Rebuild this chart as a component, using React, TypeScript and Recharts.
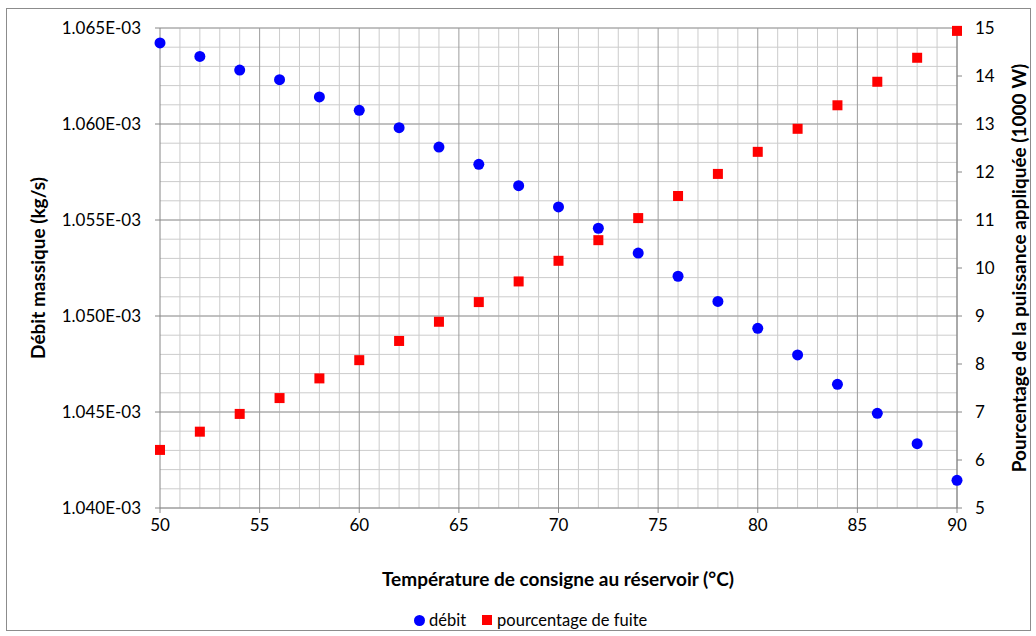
import React from 'react';
import { ScatterChart, Scatter, XAxis, YAxis, ReferenceLine } from 'recharts';

const temperatures = [50, 52, 54, 56, 58, 60, 62, 64, 66, 68, 70, 72, 74, 76, 78, 80, 82, 84, 86, 88, 90];
const debit = [
    1.06422e-3, 1.06352e-3, 1.06281e-3, 1.06231e-3, 1.06141e-3, 1.06071e-3, 1.05981e-3,
    1.0588e-3, 1.0579e-3, 1.05679e-3, 1.05568e-3, 1.05457e-3, 1.05328e-3, 1.05207e-3,
    1.05076e-3, 1.04936e-3, 1.04797e-3, 1.04644e-3, 1.04493e-3, 1.04335e-3, 1.04144e-3,
];
const fuite = [
    6.21, 6.59, 6.96, 7.29, 7.7, 8.08, 8.48, 8.88, 9.29, 9.72, 10.15,
    10.58, 11.04, 11.5, 11.96, 12.42, 12.9, 13.39, 13.88, 14.38, 14.94,
];

const xTicks = [50, 55, 60, 65, 70, 75, 80, 85, 90];
const leftTicks = [1.04e-3, 1.045e-3, 1.05e-3, 1.055e-3, 1.06e-3, 1.065e-3];
const rightTicks = [5, 6, 7, 8, 9, 10, 11, 12, 13, 14, 15];

// minor grid: every 1 °C and every 0.001E-03 kg/s
const minorX = Array.from({ length: 41 }, (_, i) => 50 + i).filter((v) => v % 5 !== 0);
const minorY = Array.from({ length: 26 }, (_, i) => 1.04e-3 + i * 1e-6);

const debitData = temperatures.map((t, i) => ({ x: t, y: debit[i] }));
const fuiteData = temperatures.map((t, i) => ({ x: t, y: fuite[i] }));

const FONT = 'Lato, "Open Sans", sans-serif';
const tickStyle = { fill: '#000', fontSize: 17, fontFamily: FONT };
const MINOR = '#cccccc';
const MAJOR = '#9c9c9c';
const AXIS = '#868686';

// eslint-disable-next-line @typescript-eslint/no-explicit-any
const BlueDot = (p: any) => <circle cx={p.cx} cy={p.cy} r={5.5} fill="#0000ff" />;
// eslint-disable-next-line @typescript-eslint/no-explicit-any
const RedSquare = (p: any) => <rect x={p.cx - 5} y={p.cy - 5} width={10} height={10} fill="#ff0000" />;

const fmtLeft = (v: number) => (v * 1000).toFixed(3) + 'E-03';

const titleStyle: React.CSSProperties = { position: 'absolute', whiteSpace: 'nowrap', fontWeight: 700, fontSize: 19 };

export default function App() {
    return (
        <div style={{ position: 'absolute', left: 0, top: 0, width: 1036, height: 636, background: '#fff', fontFamily: FONT }}>
            <div style={{ position: 'absolute', left: 6, top: 8, width: 1023, height: 621, border: '1px solid #8c8c8c' }} />
            <ScatterChart width={1036} height={636} margin={{ top: 28, left: 60, right: 19, bottom: 98 }} style={{ position: 'absolute', left: 0, top: 0 }}>
                <XAxis
                    type="number"
                    dataKey="x"
                    domain={[50, 90]}
                    ticks={xTicks}
                    height={30}
                    tickSize={5}
                    tickMargin={6}
                    stroke={AXIS}
                    tick={tickStyle}
                />
                <YAxis
                    yAxisId="left"
                    type="number"
                    dataKey="y"
                    domain={[1.04e-3, 1.065e-3]}
                    ticks={leftTicks}
                    tickFormatter={fmtLeft}
                    width={100}
                    tickSize={5}
                    tickMargin={14}
                    stroke={AXIS}
                    tick={tickStyle}
                />
                <YAxis
                    yAxisId="right"
                    orientation="right"
                    type="number"
                    dataKey="y"
                    domain={[5, 15]}
                    ticks={rightTicks}
                    width={60}
                    tickSize={5}
                    tickMargin={13}
                    stroke={AXIS}
                    tick={tickStyle}
                />
                {minorX.map((v) => (
                    <ReferenceLine key={'mx' + v} x={v} yAxisId="left" stroke={MINOR} strokeWidth={1} />
                ))}
                {minorY.map((v, i) => (
                    <ReferenceLine key={'my' + i} y={v} yAxisId="left" stroke={MINOR} strokeWidth={1} />
                ))}
                {xTicks.slice(1).map((v) => (
                    <ReferenceLine key={'Mx' + v} x={v} yAxisId="left" stroke={MAJOR} strokeWidth={1} />
                ))}
                {leftTicks.slice(1).map((v, i) => (
                    <ReferenceLine key={'My' + i} y={v} yAxisId="left" stroke={MAJOR} strokeWidth={1} />
                ))}
                <Scatter name="débit" data={debitData} yAxisId="left" shape={BlueDot} isAnimationActive={false} />
                <Scatter name="pourcentage de fuite" data={fuiteData} yAxisId="right" shape={RedSquare} isAnimationActive={false} />
            </ScatterChart>
            <div style={{ ...titleStyle, left: 37, top: 268, transform: 'translate(-50%, -50%) rotate(-90deg)' }}>
                Débit massique (kg/s)
            </div>
            <div style={{ ...titleStyle, left: 1018, top: 268, transform: 'translate(-50%, -50%) rotate(-90deg)' }}>
                Pourcentage de la puissance appliquée (1000 W)
            </div>
            <div style={{ ...titleStyle, left: 558, top: 578, transform: 'translate(-50%, -50%)' }}>
                Température de consigne au réservoir (°C)
            </div>
            <div style={{ position: 'absolute', left: 414, top: 620, transform: 'translateY(-50%)', whiteSpace: 'nowrap', fontSize: 16.5, display: 'flex', alignItems: 'center' }}>
                <span style={{ display: 'inline-block', width: 11, height: 11, borderRadius: '50%', background: '#0000ff', marginRight: 4 }} />
                <span>débit</span>
                <span style={{ display: 'inline-block', width: 10, height: 10, background: '#ff0000', marginLeft: 16, marginRight: 5 }} />
                <span>pourcentage de fuite</span>
            </div>
        </div>
    );
}
